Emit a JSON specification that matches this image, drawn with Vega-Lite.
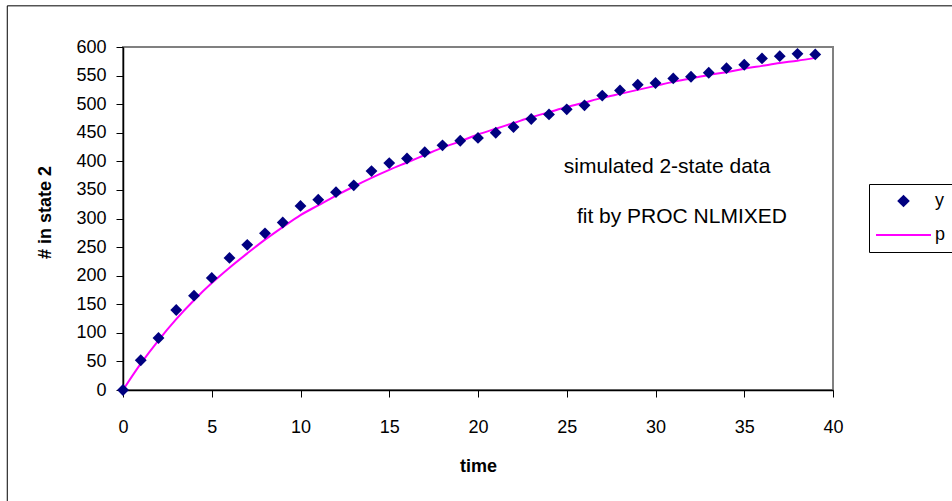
{
  "$schema": "https://vega.github.io/schema/vega-lite/v6.json",
  "width": 710,
  "height": 343,
  "autosize": {"type": "none"},
  "padding": {"left": 123, "top": 47, "right": 119, "bottom": 111},
  "background": "white",
  "config": {
    "font": "Liberation Sans",
    "view": {"stroke": "#808080", "strokeWidth": 2},
    "axis": {
      "grid": false,
      "domainColor": "#000000",
      "domainWidth": 1.5,
      "tickColor": "#000000",
      "tickSize": 7,
      "tickWidth": 1,
      "labelColor": "#000000",
      "labelFontSize": 18,
      "labelFont": "Liberation Sans",
      "labelOverlap": false,
      "titleColor": "#000000",
      "titleFont": "Liberation Sans",
      "titleFontSize": 18,
      "titleFontWeight": "bold"
    },
    "axisX": {"labelOverlap": false, "labelSeparation": 0},
    "axisY": {"labelOverlap": false, "labelSeparation": 0}
  },
  "data": {
    "values": [
      {"t": 0, "y": 0, "p": 0},
      {"t": 1, "y": 52, "p": 46},
      {"t": 2, "y": 91, "p": 87},
      {"t": 3, "y": 140, "p": 124},
      {"t": 4, "y": 165, "p": 157},
      {"t": 5, "y": 196, "p": 187},
      {"t": 6, "y": 231, "p": 214},
      {"t": 7, "y": 254, "p": 239},
      {"t": 8, "y": 274, "p": 263},
      {"t": 9, "y": 293, "p": 285},
      {"t": 10, "y": 322, "p": 306},
      {"t": 11, "y": 333, "p": 323},
      {"t": 12, "y": 346, "p": 340},
      {"t": 13, "y": 358, "p": 356},
      {"t": 14, "y": 383, "p": 371},
      {"t": 15, "y": 397, "p": 385},
      {"t": 16, "y": 405, "p": 398},
      {"t": 17, "y": 416, "p": 411},
      {"t": 18, "y": 428, "p": 424},
      {"t": 19, "y": 436, "p": 435},
      {"t": 20, "y": 441, "p": 447},
      {"t": 21, "y": 450, "p": 457},
      {"t": 22, "y": 460, "p": 467},
      {"t": 23, "y": 474, "p": 477},
      {"t": 24, "y": 482, "p": 486},
      {"t": 25, "y": 491, "p": 495},
      {"t": 26, "y": 498, "p": 503},
      {"t": 27, "y": 515, "p": 511},
      {"t": 28, "y": 524, "p": 518},
      {"t": 29, "y": 534, "p": 525},
      {"t": 30, "y": 537, "p": 532},
      {"t": 31, "y": 545, "p": 539},
      {"t": 32, "y": 548, "p": 545},
      {"t": 33, "y": 555, "p": 551},
      {"t": 34, "y": 563, "p": 556},
      {"t": 35, "y": 569, "p": 562},
      {"t": 36, "y": 580, "p": 567},
      {"t": 37, "y": 584, "p": 572},
      {"t": 38, "y": 588, "p": 576},
      {"t": 39, "y": 587, "p": 581}
    ]
  },
  "layer": [
    {
      "mark": {"type": "line", "stroke": "#FF00FF", "strokeWidth": 2, "interpolate": "monotone"},
      "encoding": {
        "x": {
          "field": "t", "type": "quantitative",
          "scale": {"domain": [0, 40], "nice": false, "zero": false},
          "axis": {"values": [0, 5, 10, 15, 20, 25, 30, 35, 40], "labelOverlap": false, "labelFlush": false, "labelBound": false, "labelPadding": 21, "title": "time", "titleY": 76, "titleBaseline": "middle"}
        },
        "y": {
          "field": "p", "type": "quantitative",
          "scale": {"domain": [0, 600], "nice": false},
          "axis": {"values": [0, 50, 100, 150, 200, 250, 300, 350, 400, 450, 500, 550, 600], "labelOverlap": false, "labelFlush": false, "labelBound": false, "labelPadding": 10, "title": "# in state 2", "titleX": -78, "titleY": 165, "titleBaseline": "middle", "titleAngle": -90}
        },
        "color": {
          "datum": "p", "type": "nominal",
          "scale": {"domain": ["y", "p"], "range": ["#000080", "#FF00FF"]},
          "legend": {
            "title": null,
            "orient": "none",
            "legendX": 746,
            "legendY": 137,
            "symbolType": "stroke",
            "rowPadding": 16,
            "padding": 8,
            "symbolOffset": 17.5,
            "labelOffset": 22.5,
            "strokeColor": "#000000",
            "labelFontSize": 18,
            "labelColor": "#000000",
            "encode": {
              "symbols": {
                "update": {
                  "shape": {"signal": "datum.value === 'y' ? 'diamond' : 'stroke'"},
                  "size": {"signal": "datum.value === 'y' ? 160 : 3025"},
                  "fill": {"signal": "datum.value === 'y' ? '#000080' : 'transparent'"},
                  "stroke": {"signal": "datum.value === 'y' ? '#000080' : '#FF00FF'"},
                  "strokeWidth": {"signal": "datum.value === 'y' ? 0 : 2"},
                  "opacity": {"value": 1}
                }
              }
            }
          }
        }
      }
    },
    {
      "mark": {"type": "point", "shape": "diamond", "filled": true, "size": 140, "opacity": 1},
      "encoding": {
        "x": {
          "field": "t", "type": "quantitative",
          "axis": {"values": [0, 5, 10, 15, 20, 25, 30, 35, 40], "labelOverlap": false, "labelFlush": false, "labelBound": false, "labelPadding": 21, "title": "time", "titleY": 76, "titleBaseline": "middle"}
        },
        "y": {
          "field": "y", "type": "quantitative",
          "axis": {"values": [0, 50, 100, 150, 200, 250, 300, 350, 400, 450, 500, 550, 600], "labelOverlap": false, "labelFlush": false, "labelBound": false, "labelPadding": 10, "title": "# in state 2", "titleX": -78, "titleY": 165, "titleBaseline": "middle", "titleAngle": -90}
        },
        "color": {"datum": "y", "type": "nominal"}
      }
    },
    {
      "data": {
        "values": [
          {"label": "simulated 2-state data", "tx": 30.65, "ty": 379.6},
          {"label": "fit by PROC NLMIXED", "tx": 31.49, "ty": 291.6}
        ]
      },
      "mark": {"type": "text", "fontSize": 21, "color": "#000000", "align": "center", "baseline": "alphabetic"},
      "encoding": {
        "x": {"field": "tx", "type": "quantitative",
          "axis": {"values": [0, 5, 10, 15, 20, 25, 30, 35, 40], "labelOverlap": false, "labelFlush": false, "labelBound": false, "labelPadding": 21, "title": "time", "titleY": 76, "titleBaseline": "middle"}},
        "y": {"field": "ty", "type": "quantitative",
          "axis": {"values": [0, 50, 100, 150, 200, 250, 300, 350, 400, 450, 500, 550, 600], "labelOverlap": false, "labelFlush": false, "labelBound": false, "labelPadding": 10, "title": "# in state 2", "titleX": -78, "titleY": 165, "titleBaseline": "middle", "titleAngle": -90}},
        "text": {"field": "label"}
      }
    },
    {
      "data": {"values": [{}]},
      "mark": {"type": "rect", "fill": "transparent", "stroke": "#000000", "strokeWidth": 1},
      "encoding": {
        "x": {"datum": -6.52, "type": "quantitative",
          "axis": {"values": [0, 5, 10, 15, 20, 25, 30, 35, 40], "labelOverlap": false, "labelFlush": false, "labelBound": false, "labelPadding": 21, "title": "time", "titleY": 76, "titleBaseline": "middle"}},
        "x2": {"datum": 48},
        "y": {"datum": 672, "type": "quantitative",
          "axis": {"values": [0, 50, 100, 150, 200, 250, 300, 350, 400, 450, 500, 550, 600], "labelOverlap": false, "labelFlush": false, "labelBound": false, "labelPadding": 10, "title": "# in state 2", "titleX": -78, "titleY": 165, "titleBaseline": "middle", "titleAngle": -90}},
        "y2": {"datum": -250}
      }
    }
  ]
}
